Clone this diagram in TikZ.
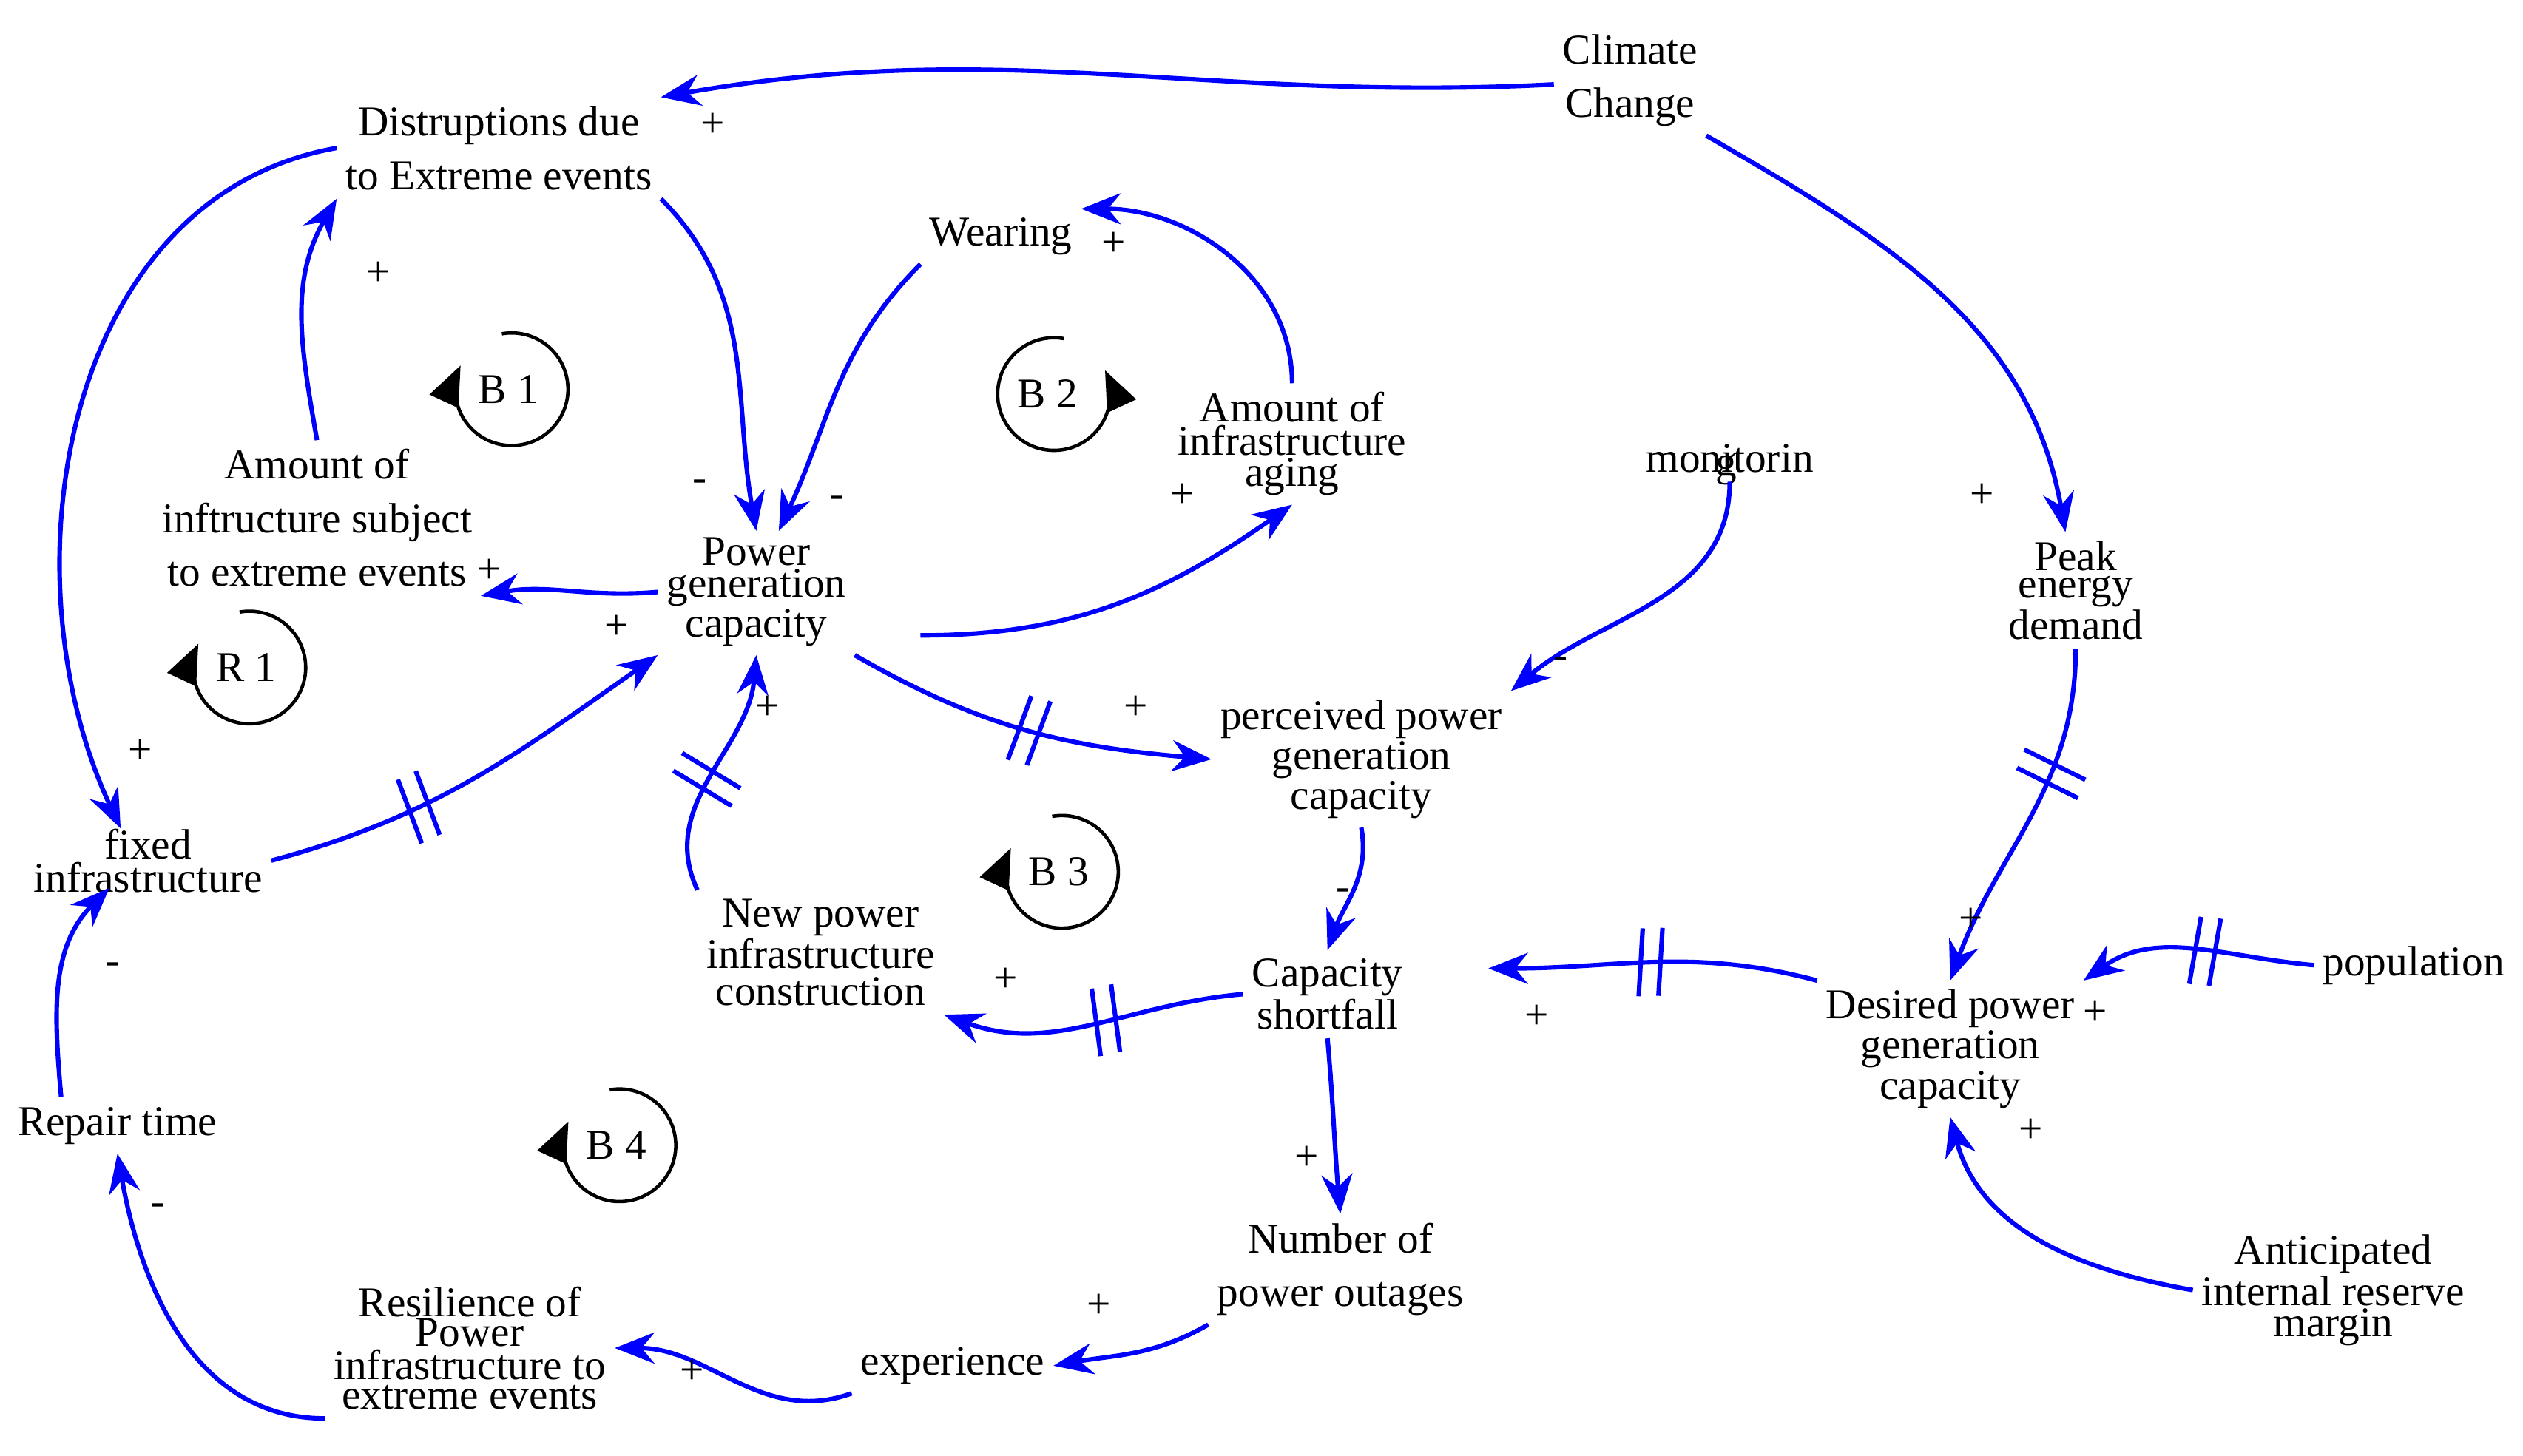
\documentclass[tikz,border=0pt]{standalone}
\usepackage{fontspec}
\setmainfont{Liberation Serif}
\usetikzlibrary{arrows.meta,decorations.markings}
\definecolor{lb}{RGB}{0,0,255}
\begin{document}
\begin{tikzpicture}[x=0.02cm,y=-0.02cm,
  v/.style={align=center,inner sep=3pt,font=\fontsize{15}{19}\selectfont},
  tight/.style={font=\fontsize{15}{9.7}\selectfont},
  mid/.style={font=\fontsize{15}{13}\selectfont},
  lbl/.style={font=\fontsize{15}{16}\selectfont,inner sep=0pt},
  e/.style={draw=lb,line width=1.6pt,-{Stealth[length=14pt,width=11pt]}},
  delay/.style={postaction={decorate,decoration={markings,mark=at position #1 with {
     \draw[line width=1.6pt,lb,-] (-3.5pt,-12pt)--(-1.5pt,12pt) (3.5pt,-12pt)--(5.5pt,12pt);}}}},
  delay/.default=0.5,
  lp/.style={line width=1.2pt,-{Triangle[length=14pt,width=11pt]}}]
\useasboundingbox (0,0) rectangle (1568,905);
% nodes
\node[v] (cc) at (1013,50) {Climate\\Change};
\node[v] (dis) at (310,92) {Distruptions due\\to Extreme events};
\node[v] (wear) at (622,147) {Wearing};
\node[v,tight] (age) at (803,276) {Amount of\\infrastructure\\aging};
\node[v] (mon) at (1075,285) {monitorin};
\node[lbl] at (1073,292) {g};
\node[v] (sub) at (197,322) {Amount of\\inftructure subject\\to extreme events};
\node[v,tight] (pow) at (470,368) {Power\\generation\\capacity};
\node[v,tight] (peak) at (1290,367) {Peak\\energy\\demand};
\node[v,tight] (perc) at (846,472) {perceived power\\generation\\capacity};
\node[v,font=\fontsize{15}{4.5}\selectfont] (fix) at (92,535) {fixed\\infrastructure};
\node[v,mid] (new) at (510,592) {New power\\infrastructure\\construction};
\node[v,font=\fontsize{15}{5}\selectfont] (cap) at (825,618) {Capacity\\shortfall};
\node[v,tight] (des) at (1212,652) {Desired power\\generation\\capacity};
\node[v] (pop) at (1500,600) {population};
\node[v] (rep) at (73,700) {Repair time};
\node[v] (num) at (833,789) {Number of\\power outages};
\node[v] (exp) at (592,849) {experience};
\node[v,font=\fontsize{15}{10.5}\selectfont] (res) at (292,838) {Resilience of\\Power\\infrastructure to\\extreme events};
\node[v,tight] (ant) at (1450,802) {Anticipated\\internal reserve\\margin};
\coordinate (powout) at (572,395);
\coordinate (powinA) at (470,330);
\coordinate (powinB) at (484,330);
\coordinate (fixinA) at (75,515);
\coordinate (fixinB) at (68,552);
\coordinate (repout) at (38,682);
\coordinate (capin) at (925,602);
% edges
\draw[e] (cc) to[out=183,in=10] (dis.north east);
\draw[e] (cc.south east) to[out=-30,in=100] (peak);
\draw[e] (dis.south east) to[out=-45,in=100] (powinA);
\draw[e] (wear.south west) to[out=-135,in=65] (powinB);
\draw[e] (age.north) to[out=90,in=0] (wear.north east);
\draw[e] (powout) to[out=0,in=-145] (age.south);
\draw[e] (pow.west) to[out=185,in=10] (sub.south east);
\draw[e] (sub.north) to[out=100,in=-120] (dis.south west);
\draw[e] (dis.west) to[out=190,in=115] (fixinA);
\draw[e,delay=0.35] (fix.east) to[out=15,in=-145] (pow.south west);
\draw[e,delay=0.45] (new.north west) to[out=115,in=-95] (pow.south);
\draw[e,delay=0.5] (pow.south east) to[out=-30,in=175] (perc.west);
\draw[e] (mon.south) to[out=-90,in=40] (perc.north east);
\draw[e] (perc.south) to[out=-80,in=70] (cap.north);
\draw[e,delay=0.45] (cap.west) to[out=185,in=-20] (new.south east);
\draw[e,delay=0.5] (des.north west) to[out=165,in=0] (capin);
\draw[e,delay=0.35] (peak.south) to[out=-90,in=70] (des.north);
\draw[e,delay=0.45] (pop.west) to[out=175,in=35] (des.north east);
\draw[e] (ant.west) to[out=170,in=-75] (des.south);
\draw[e] (cap.south) to[out=-85,in=95] (num.north);
\draw[e] (num.south west) to[out=-150,in=10] (exp.east);
\draw[e] (exp.south west) to[out=-160,in=0] (res.east);
\draw[e] (res.south west) to[out=180,in=-80] (rep.south);
\draw[e] (repout) to[out=95,in=-135] (fixinB);
% polarity labels
\foreach \x/\y/\t in {443/78/+,1232/308/+,435/302/-,520/312/-,692/152/+,735/308/+,383/390/+,235/170/+,
  87/467/+,477/440/+,706/440/+,970/412/-,835/556/-,625/609/+,955/632/+,1225/572/+,1302/630/+,
  1262/703/+,812/720/+,683/812/+,430/853/+,98/752/-,70/602/-,304/355/+}
  \node[lbl] at (\x,\y) {\t};
% loop markers
\foreach \cx/\cy/\t in {318/242/B 1,155/415/R 1,660/542/B 3,385/712/B 4}{
  \draw[lp] (\cx-6.1,\cy-34.5) arc[start angle=-100,end angle=205,radius=35];
  \node[lbl] at (\cx-2,\cy) {\t};}
\draw[lp] (661.1,210.5) arc[start angle=-80,end angle=-385,radius=35];
\node[lbl] at (651,245) {B 2};
\end{tikzpicture}
\end{document}
